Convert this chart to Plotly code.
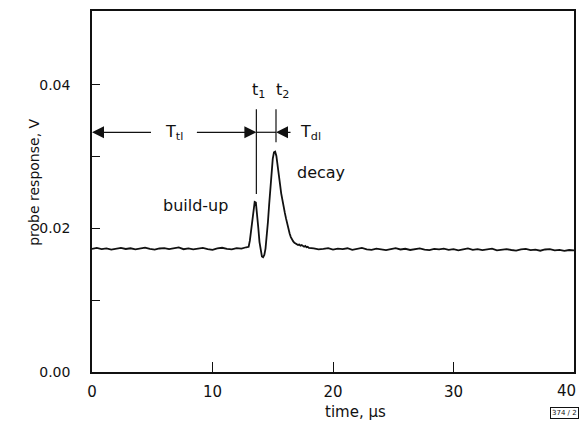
import plotly.graph_objects as go

# ---- data ----
time_a = [0.0, 0.4, 0.8, 1.2, 1.6, 2.0, 2.4, 2.8, 3.2, 3.6, 4.0, 4.4, 4.8, 5.2, 5.6, 6.0, 6.4,
          6.8, 7.2, 7.6, 8.0, 8.4, 8.8, 9.2, 9.6, 10.0, 10.4, 10.8, 11.2, 11.6, 12.0, 12.4, 12.8]
resp_a = [0.01715, 0.01728, 0.01712, 0.01722, 0.01706, 0.01718, 0.01730, 0.01714, 0.01724, 0.01709,
          0.01720, 0.01733, 0.01716, 0.01705, 0.01721, 0.01727, 0.01712, 0.01719, 0.01735, 0.01711,
          0.01723, 0.01708, 0.01717, 0.01729, 0.01713, 0.01702, 0.01722, 0.01731, 0.01716, 0.01709,
          0.01726, 0.01718, 0.01738]

time_b = [13.0, 13.1, 13.2, 13.3, 13.4, 13.5, 13.6, 13.7, 13.8, 13.9,
          14.0, 14.1, 14.2, 14.3, 14.4, 14.5, 14.6, 14.7, 14.8, 14.9,
          15.0, 15.1, 15.2, 15.3, 15.4, 15.5, 15.6, 15.7, 15.8, 15.9,
          16.0, 16.1, 16.2, 16.3, 16.4, 16.5, 16.6, 16.7, 16.8, 16.9,
          17.0, 17.1, 17.2, 17.3, 17.4, 17.5, 17.6, 17.7, 17.8, 17.9, 18.0]
resp_b = [0.01745, 0.01830, 0.01960, 0.02120, 0.02280, 0.02370, 0.02360, 0.02220, 0.02010, 0.01810,
          0.01670, 0.01610, 0.01600, 0.01630, 0.01720, 0.01880, 0.02090, 0.02330, 0.02580, 0.02800,
          0.02970, 0.03060, 0.03070, 0.03010, 0.02900, 0.02760, 0.02620, 0.02490, 0.02380, 0.02300,
          0.02220, 0.02140, 0.02060, 0.01990, 0.01930, 0.01880, 0.01845, 0.01820, 0.01800, 0.01790,
          0.01782, 0.01770, 0.01776, 0.01760, 0.01768, 0.01752, 0.01745, 0.01756, 0.01738, 0.01744,
          0.01730]

time_c = [18.4, 18.8, 19.2, 19.6, 20.0, 20.4, 20.8, 21.2, 21.6, 22.0, 22.4, 22.8, 23.2, 23.6,
          24.0, 24.4, 24.8, 25.2, 25.6, 26.0, 26.4, 26.8, 27.2, 27.6, 28.0, 28.4, 28.8, 29.2,
          29.6, 30.0, 30.4, 30.8, 31.2, 31.6, 32.0, 32.4, 32.8, 33.2, 33.6, 34.0, 34.4, 34.8,
          35.2, 35.6, 36.0, 36.4, 36.8, 37.2, 37.6, 38.0, 38.4, 38.8, 39.2, 39.6, 40.0]
resp_c = [0.01722, 0.01708, 0.01716, 0.01727, 0.01705, 0.01719, 0.01712, 0.01724, 0.01701, 0.01716,
          0.01729, 0.01710, 0.01703, 0.01720, 0.01714, 0.01698, 0.01712, 0.01725, 0.01707, 0.01717,
          0.01700, 0.01713, 0.01722, 0.01704, 0.01697, 0.01715, 0.01708, 0.01719, 0.01702, 0.01711,
          0.01695, 0.01709, 0.01721, 0.01703, 0.01712, 0.01699, 0.01706, 0.01718, 0.01694, 0.01705,
          0.01713, 0.01700, 0.01692, 0.01709, 0.01716, 0.01698, 0.01704, 0.01690, 0.01707, 0.01711,
          0.01696, 0.01702, 0.01688, 0.01700, 0.01694]

x_ticks = [0, 10, 20, 30, 40]
x_tick_labels = ["0", "10", "20", "30", "40"]
y_ticks = [0.0, 0.02, 0.04]
y_tick_labels = ["0.00", "0.02", "0.04"]

# marker times
t1 = 13.64
t2 = 15.27

time = time_a + time_b + time_c
resp = resp_a + resp_b + resp_c

FONT = "DejaVu Sans"
BLACK = "#111111"

fig = go.Figure()
fig.add_trace(go.Scatter(x=time, y=resp, mode="lines",
                         line=dict(color=BLACK, width=1.8), showlegend=False,
                         hoverinfo="skip"))

arrow_y = 0.0334
top_y = 0.0366

shapes = [
    dict(type="line", xref="x", yref="y", x0=t1, x1=t1, y0=0.0248, y1=top_y,
         line=dict(color=BLACK, width=1.2)),
    dict(type="line", xref="x", yref="y", x0=t2, x1=t2, y0=0.0320, y1=top_y,
         line=dict(color=BLACK, width=1.2)),
    dict(type="line", xref="x", yref="y", x0=t1, x1=t2, y0=arrow_y, y1=arrow_y,
         line=dict(color=BLACK, width=1.2)),
]

def arrow(x_tip, x_tail):
    return dict(x=x_tip, y=arrow_y, ax=x_tail, ay=arrow_y, xref="x", yref="y",
                axref="x", ayref="y", text="", showarrow=True, arrowhead=2,
                arrowsize=2.0, arrowwidth=1.2, arrowcolor=BLACK, standoff=0)

def label(x, y, text, size=16):
    return dict(x=x, y=y, xref="x", yref="y", text=text,
                showarrow=False, xanchor="center", yanchor="middle",
                font=dict(family=FONT, size=size, color=BLACK))

annotations = [
    arrow(0.0, 5.02),
    arrow(t1, 8.58),
    arrow(t2, 16.6),
    label(6.84, arrow_y, "T<sub>tl</sub>"),
    label(18.15, arrow_y, "T<sub>dl</sub>"),
    label(13.8, 0.0392, "t<sub>1</sub>"),
    label(15.85, 0.0392, "t<sub>2</sub>"),
    label(8.6, 0.0232, "build-up", size=16),
    label(19.0, 0.0278, "decay", size=16),
    # last x tick label, nudged left so it stays inside the picture
    dict(x=x_ticks[-1], y=-0.0526, xref="x", yref="paper", text=x_tick_labels[-1],
         showarrow=False, xanchor="center", yanchor="middle", xshift=-8,
         font=dict(family=FONT, size=15, color=BLACK)),
    dict(x=-0.121, y=0.526, xref="paper", yref="paper", text="probe response, V",
         textangle=-90, showarrow=False, xanchor="center", yanchor="middle",
         font=dict(family=FONT, size=14, color=BLACK)),
    dict(x=0.546, y=-0.111, xref="paper", yref="paper", text="time, µs",
         showarrow=False, xanchor="center", yanchor="middle",
         font=dict(family=FONT, size=15, color=BLACK)),
    dict(x=0.981, y=-0.1136, xref="paper", yref="paper", text="374 / 2",
         showarrow=False, xanchor="center", yanchor="middle",
         font=dict(family=FONT, size=7, color=BLACK),
         bordercolor=BLACK, borderwidth=1, borderpad=1),
]

fig.update_layout(
    width=580, height=423,
    margin=dict(l=91.5, r=6, t=11, b=51, autoexpand=False),
    paper_bgcolor="white", plot_bgcolor="white",
    shapes=shapes, annotations=annotations,
    font=dict(family=FONT, size=15, color=BLACK),
    xaxis=dict(range=[0, 40], tickvals=x_ticks, ticktext=x_tick_labels[:-1] + [""],
               ticks="inside", ticklen=10, tickwidth=1.2, tickcolor=BLACK,
               showline=True, linecolor=BLACK, linewidth=1.5, mirror=True,
               showgrid=False, zeroline=False, ticklabelstandoff=5,
               tickfont=dict(family=FONT, size=15, color=BLACK)),
    yaxis=dict(range=[0, 0.0503], tickvals=y_ticks, ticktext=y_tick_labels,
               ticks="inside", ticklen=8, tickwidth=1.2, tickcolor=BLACK,
               minor=dict(tickvals=[0.01, 0.03], ticks="inside", ticklen=8,
                          tickwidth=1.2, tickcolor=BLACK),
               showline=True, linecolor=BLACK, linewidth=1.5, mirror=True,
               showgrid=False, zeroline=False, ticklabelstandoff=17,
               tickfont=dict(family=FONT, size=14, color=BLACK)),
)

fig.write_html("out.html", config={"displayModeBar": False},
               post_script="document.body.style.margin='0';document.body.style.overflow='hidden';")
